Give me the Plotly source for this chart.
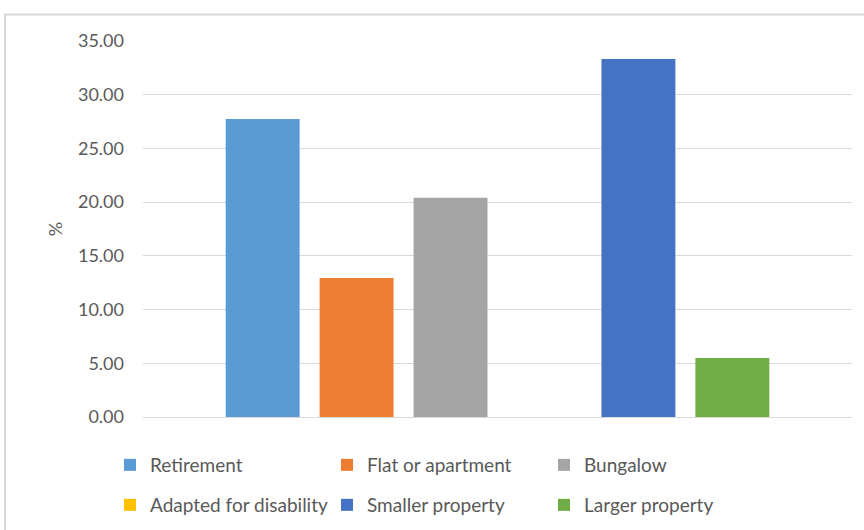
import plotly.graph_objects as go

# Preferred property type among those planning to move (%)
categories = [""]
series_names = ["Retirement", "Flat or apartment", "Bungalow",
                "Adapted for disability", "Smaller property", "Larger property"]
series_values = [27.75, 12.95, 20.40, 0.0, 33.33, 5.49]
series_colors = ["#5B9BD5", "#ED7D31", "#A5A5A5", "#FFC000", "#4472C4", "#70AD47"]
legend_rows = ["legend", "legend", "legend", "legend2", "legend2", "legend2"]
y_ticks = [0, 5, 10, 15, 20, 25, 30, 35]

W, H = 864, 530
L, R, T, B = 143, 12, 41, 113
pw, ph = W - L - R, H - T - B

FONT = "Lato"
TXT = "#595959"
GRID = "#D9D9D9"

fig = go.Figure()
for name, val, col, lg in zip(series_names, series_values, series_colors, legend_rows):
    fig.add_trace(go.Bar(
        x=categories, y=[val], name=name, legend=lg,
        marker=dict(color=col, line=dict(width=0)),
        hoverinfo="name+y",
    ))

def px_x(px):
    return (px - L) / pw

def px_y(py):
    return (H - B - py) / ph

def legend_row(top_px):
    return dict(
        orientation="h", x=px_x(110), xanchor="left",
        y=px_y(top_px), yanchor="top",
        entrywidth=172, entrywidthmode="pixels",
        traceorder="normal",
        font=dict(family=FONT, size=19, color=TXT),
        bgcolor="rgba(0,0,0,0)",
    )

fig.update_layout(
    width=W, height=H,
    margin=dict(l=L, r=R, t=T, b=B, pad=0, autoexpand=False),
    paper_bgcolor="white", plot_bgcolor="white",
    barmode="group", bargap=0.205, bargroupgap=0.213,
    font=dict(family=FONT, size=18, color=TXT),
    showlegend=True,
    legend=legend_row(446),
    legend2=legend_row(486),
    xaxis=dict(showticklabels=False, showgrid=False, zeroline=False,
               showline=False, fixedrange=True),
    yaxis=dict(
        range=[0, 35], tickvals=y_ticks, tickformat=".2f",
        showgrid=True, gridcolor=GRID, gridwidth=1,
        zeroline=True, zerolinecolor=GRID, zerolinewidth=1,
        showline=False, ticks="", ticklabelstandoff=18,
        tickfont=dict(family=FONT, size=18, color=TXT),
        title=dict(text="%", standoff=10,
                   font=dict(family=FONT, size=18, color=TXT)),
    ),
    shapes=[
        # chart frame (top and left edges visible)
        dict(type="rect", xref="paper", yref="paper",
             x0=px_x(5), x1=px_x(W + 20), y0=px_y(H + 20), y1=px_y(14.5),
             line=dict(color=GRID, width=2), fillcolor="rgba(0,0,0,0)",
             layer="below"),
    ],
)

fig.write_html("out.html")
